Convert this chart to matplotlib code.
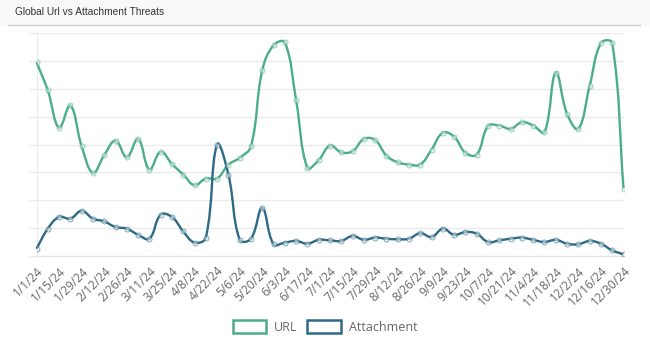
import matplotlib
matplotlib.use("Agg")
import matplotlib.pyplot as plt
import numpy as np
import pandas as pd
from matplotlib.path import Path
from matplotlib.patches import PathPatch, Rectangle
from matplotlib.lines import Line2D

# weekly counts, 1/1/24 .. 12/30/24
weeks = pd.date_range("2024-01-01", periods=53, freq="7D")
week_labels = [f"{d.month}/{d.day}/{d.year % 100}" for d in weeks]

url = [348, 297, 230, 270, 197, 149, 181, 207, 177, 210, 155, 187, 165, 146,
       127, 139, 139, 164, 176, 197, 333, 378, 383, 279, 158, 172, 198, 186,
       188, 210, 208, 180, 168, 164, 164, 191, 221, 214, 185, 182, 233, 234,
       228, 240, 234, 222, 329, 255, 228, 305, 382, 382, 121]
attachment = [13, 49, 70, 67, 81, 67, 62, 52, 49, 38, 31, 74, 70, 44,
              24, 33, 200, 146, 29, 31, 86, 21, 24, 27, 22, 29, 28, 27,
              36, 29, 33, 31, 30, 31, 41, 34, 49, 38, 43, 40, 25, 28,
              31, 33, 29, 25, 29, 22, 21, 27, 22, 10, 3]

URL_COLOR = "#4bae8a"
ATT_COLOR = "#2d6a88"
GRID = "#ebebeb"


def smooth_path(ax, xs, ys, tension=0.4):
    # cubic bezier through the points, control points from neighbours
    # (distances measured in display pixels so the curve looks even)
    pts = ax.transData.transform(np.column_stack([xs, ys]))
    n = len(pts)
    verts = [pts[0]]
    codes = [Path.MOVETO]
    ctrl = []
    for i in range(n):
        prev = pts[max(i - 1, 0)]
        cur = pts[i]
        nxt = pts[min(i + 1, n - 1)]
        d01 = np.hypot(*(cur - prev))
        d12 = np.hypot(*(nxt - cur))
        tot = d01 + d12 if d01 + d12 > 0 else 1
        fa = tension * d01 / tot
        fb = tension * d12 / tot
        ctrl.append((cur - fa * (nxt - prev), cur + fb * (nxt - prev)))
    for i in range(n - 1):
        verts += [ctrl[i][1], ctrl[i + 1][0], pts[i + 1]]
        codes += [Path.CURVE4] * 3
    return Path(verts, codes)


fig = plt.figure(figsize=(6.5, 3.45), dpi=100)
fig.patch.set_facecolor("white")

# header strip with title
fig.patches.append(Rectangle((0, 1 - 25 / 345), 1, 25 / 345, transform=fig.transFigure,
                             facecolor="#f9f9f9", edgecolor="none", zorder=0))
fig.lines.append(Line2D([8 / 650, 640 / 650], [1 - 25 / 345] * 2, transform=fig.transFigure,
                        color="#cfcfcf", lw=1))
fig.text(15 / 650, 1 - 12 / 345, "Global Url vs Attachment Threats", fontsize=7.3,
         family="Liberation Sans", color="#333333", va="center", ha="left")

ax = fig.add_axes([36.5 / 650, 1 - 256 / 345, 587 / 650, 223 / 345])
ax.set_xlim(0, len(url) - 1)
ax.set_ylim(0, 400)
ax.set_facecolor("none")

x = np.arange(len(url))
fig.canvas.draw()
for series, color in [(url, URL_COLOR), (attachment, ATT_COLOR)]:
    path = smooth_path(ax, x, series)
    ax.add_patch(PathPatch(path, transform=None, facecolor="none", edgecolor=color,
                           lw=1.7, zorder=3, clip_on=False))
    ax.plot(x, series, linestyle="none", marker="o", markersize=3.6,
            markerfacecolor="#dde8e5", markeredgecolor=color, markeredgewidth=0.7,
            alpha=0.55, zorder=4)

ax.set_yticks(np.arange(0, 401, 50))
ax.set_yticklabels([])
ax.grid(axis="y", color=GRID, lw=1)
ax.tick_params(axis="y", length=6, color=GRID, width=1)
ax.set_xticks(x[::2])
ax.set_xticklabels(week_labels[::2], rotation=45, ha="right", va="top",
                   rotation_mode="anchor", fontsize=8.6, family="Open Sans", color="#666666")
ax.tick_params(axis="x", length=0, pad=6)
for side in ["top", "right"]:
    ax.spines[side].set_visible(False)
ax.spines["left"].set_color(GRID)
ax.spines["bottom"].set_color("#e2e2e2")

handles = [Rectangle((0, 0), 1, 1, facecolor="white", edgecolor=URL_COLOR, lw=1.8),
           Rectangle((0, 0), 1, 1, facecolor="white", edgecolor=ATT_COLOR, lw=1.8)]
leg = fig.legend(handles, ["URL", "Attachment"], loc="center", bbox_to_anchor=(0.5, 1 - 327 / 345),
                 ncol=2, frameon=False, handlelength=2.7, handleheight=1.2, handletextpad=0.6,
                 columnspacing=0.8, prop={"family": "Open Sans", "size": 9})
for t in leg.get_texts():
    t.set_color("#666666")

fig.savefig("out.png", dpi=100)
